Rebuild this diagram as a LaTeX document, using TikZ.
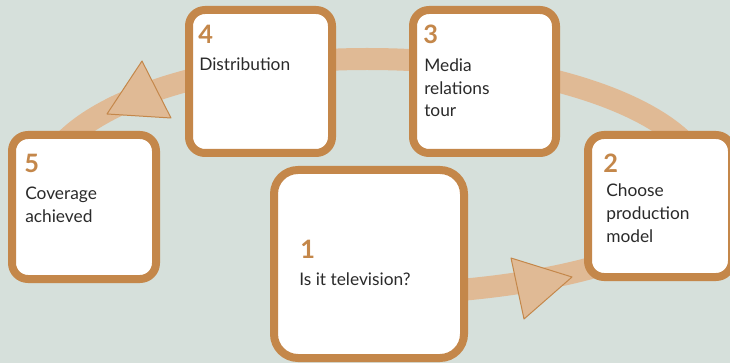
\documentclass[tikz,border=0pt]{standalone}
\usepackage{fontspec}
\setmainfont{Lato}
\definecolor{paper}{HTML}{D6E0DB}
\definecolor{copper}{HTML}{C4874A}
\definecolor{sand}{HTML}{E0BA95}
\definecolor{ink}{HTML}{2A2A2A}
\begin{document}
\begin{tikzpicture}[x=0.75pt, y=-0.75pt,
    stepbox/.style={draw=copper, fill=white, line width=6pt, rounded corners=12pt,
      inner sep=0pt, outer sep=0pt},
    num/.style={anchor=base west, inner sep=0pt, text=copper,
      font=\fontsize{19}{20}\selectfont\bfseries},
    txt/.style={anchor=base west, inner sep=0pt, text=ink, align=left,
      font=\fontsize{13}{17}\selectfont},
    tip/.style={fill=sand, draw=copper, line width=0.75pt, line join=round}]
    \useasboundingbox (0,0) rectangle (730,363);
    \clip (0,0) rectangle (730,363);
    % background and the open ring behind the boxes
    \fill[paper] (0,0) rectangle (730,363);
    \draw[sand, line width=16.5pt] (367,294) arc[start angle=90, end angle=0, x radius=340, y radius=105]
        arc[start angle=360, end angle=270, x radius=340, y radius=130]
        arc[start angle=270, end angle=180, x radius=325, y radius=130]
        arc[start angle=180, end angle=132, x radius=325, y radius=105];
    \filldraw[tip] (511,258) -- (524,319) -- (572,277) -- cycle;
    \filldraw[tip] (107,114) -- (171,118) -- (142,61) -- cycle;
    % the five steps (sizes in pt: 1px = 0.75pt)
    \node[stepbox, minimum width=107.25pt, minimum height=107.25pt] (b4) at (260.5,81.5) {};
    \node[stepbox, minimum width=107.25pt, minimum height=107.25pt] (b3) at (484.5,81.5) {};
    \node[stepbox, minimum width=108pt, minimum height=108pt] (b5) at (84,207) {};
    \node[stepbox, minimum width=108pt, minimum height=106.5pt] (b2) at (660,206) {};
    \node[stepbox, minimum width=142.5pt, minimum height=141pt, rounded corners=18pt] (b1) at (369,264) {};
    % numbers and labels; a label's base is its last line
    \node[num] (n4) at (198,44) {4};
    \node[txt] (t4) at (199,71) {Distribution};
    \node[num] (n3) at (423,44) {3};
    \node[txt] (t3) at (424,117) {Media\\relations\\tour};
    \node[num] (n5) at (24,172) {5};
    \node[txt] (t5) at (25,222) {Coverage\\achieved};
    \node[num] (n2) at (603,172) {2};
    \node[txt] (t2) at (606,242) {Choose\\production\\model};
    \node[num] (n1) at (300,258) {1};
    \node[txt] (t1) at (299,285) {Is it television?};
\end{tikzpicture}
\end{document}
